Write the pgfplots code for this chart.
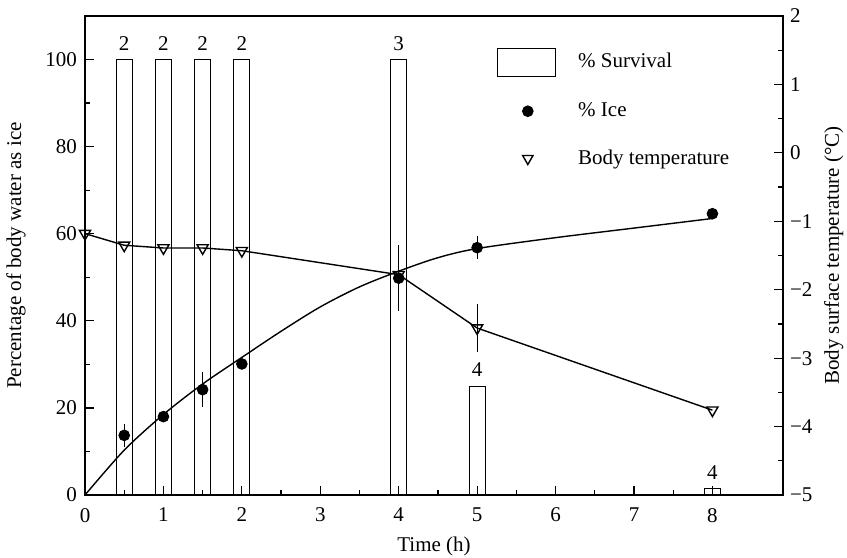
\documentclass[border=0pt]{standalone}
\usepackage{fontspec}
\setmainfont{Liberation Serif}
\usepackage{pgfplots}
\usepackage{pgfplotstable}
\usetikzlibrary{calc}
\pgfplotsset{compat=1.18}

% survival bars: time, % survival, n
\pgfplotstableread{
x y n
0.5 100 2
1 100 2
1.5 100 2
2 100 2
4 100 3
5 25 4
8 1.5 4
}\survival

% % ice with error
\pgfplotstableread{
x y e
0.5 13.7 2.7
1 18.0 1.0
1.5 24.2 4.0
2 30.1 1.0
4 49.8 7.6
5 56.8 2.6
8 64.6 0
}\ice

% fitted ice curve
\pgfplotstableread{
x y
0 0
0.5 10.3
1 18.5
1.5 25.5
2 31.6
2.5 37.6
3 43.2
3.5 47.8
4 51.4
4.5 54.5
5 56.6
6 59.1
7 61.3
8 63.5
}\icefit

% body temperature
\pgfplotstableread{
x y e
0 -1.18 0
0.5 -1.35 0
1 -1.39 0
1.5 -1.39 0
2 -1.43 0
4 -1.78 0
5 -2.56 0.35
8 -3.76 0
}\temp

\pgfplotsset{
  every axis/.append style={
    font=\fontsize{10.5}{12.6}\selectfont,
    scale only axis,
    width=349pt, height=239.5pt,
    xmin=0, xmax=8.9,
    tick align=inside,
    major tick length=4.5pt,
    minor tick length=2.5pt,
    /pgf/number format/assume math mode=true,
    every tick/.style={black, line width=0.6pt},
  },
  markleg/.style={legend image code/.code={\draw[##1] plot coordinates {(15pt,0pt)}; \path (38pt,0pt);}},
}

\begin{document}
\begin{tikzpicture}
\begin{axis}[
    name=ax,
    ymin=0, ymax=110,
    xtick={0,1,...,8},
    minor x tick num=1,
    ytick={0,20,...,100},
    minor y tick num=1,
    xtick pos=bottom, ytick pos=left,
    xticklabel shift=3pt,
    xlabel shift=0.5pt,
    yticklabel shift=0.5pt,
    ylabel shift=3pt,
    xlabel={Time (h)},
    ylabel={Percentage of body water as ice},
    axis line style={line width=0.7pt},
    legend style={at={(0.59,0.935)}, anchor=north west, draw=none, fill=none,
      row sep=11pt, inner sep=0pt, cells={anchor=west},
      font=\fontsize{10.5}{12.6}\selectfont},
]
\addlegendimage{legend image code/.code={\draw[black, line width=0.6pt] (0pt,-7pt) rectangle (29pt,7pt); \path (38pt,0pt);}}
\addlegendentry{\% Survival}
\addlegendimage{only marks, mark=*, mark size=2.7pt, black, markleg}
\addlegendentry{\% Ice}
\addlegendimage{only marks, mark=triangle, mark size=3pt, black, mark options={rotate=180, line width=0.7pt}, markleg}
\addlegendentry{Body temperature}

\addplot[ybar, bar width=8pt, draw=black, fill=none, line width=0.6pt,
  point meta=explicit, nodes near coords, forget plot,
  every node near coord/.append style={font=\fontsize{10.5}{12.6}\selectfont, yshift=1pt, anchor=south}]
  table[x=x, y=y, meta=n] {\survival};
\addplot[black, line width=0.7pt, smooth, forget plot] table[x=x, y=y] {\icefit};
\addplot[black, only marks, mark=*, mark size=2.7pt, forget plot,
  error bars/.cd, y dir=both, y explicit, error mark=none,
  error bar style={line width=0.6pt}]
  table[x=x, y=y, y error=e] {\ice};
\end{axis}

\begin{axis}[
    ymin=-5, ymax=2,
    axis x line=none,
    axis y line*=right,
    ytick={-5,-4,...,2},
    yticklabels={−5,−4,−3,−2,−1,0,1,2},
    minor y tick num=1,
    ylabel shift=-1pt,
    ylabel={Body surface temperature (°C)},
    axis line style={line width=0.7pt},
]
\addplot[black, line width=0.7pt, mark=triangle, mark size=3.2pt,
  mark options={rotate=180, fill=white, line width=0.7pt},
  error bars/.cd, y dir=both, y explicit, error mark=none,
  error bar style={line width=0.6pt}]
  table[x=x, y=y, y error=e] {\temp};
\end{axis}
\pgfresetboundingbox
\path ($(ax.south west)+(-42.5pt,-31pt)$) rectangle ($(ax.north east)+(32pt,8pt)$);
\end{tikzpicture}
\end{document}
